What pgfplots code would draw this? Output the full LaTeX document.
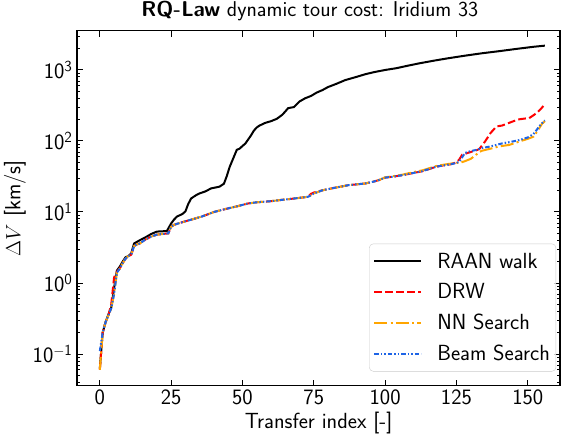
\documentclass[border=0pt]{standalone}
\usepackage{fontspec}
\usepackage{pgfplots}
\pgfplotsset{compat=1.18}
\definecolor{drwred}{RGB}{255,0,0}
\definecolor{nnorange}{RGB}{255,165,0}
\definecolor{beamblue}{RGB}{30,100,230}
\newcommand\figfont{\sffamily\fontsize{22}{26}\selectfont}
\newcommand\titlefont{\sffamily\fontsize{21.5}{25}\selectfont}
\begin{document}
\begin{tikzpicture}
\begin{axis}[
  name=ax,
  scale only axis, width=483bp, height=355bp,
  xmin=-8, xmax=161.3,
  ymode=log, ymin=0.0358, ymax=3573,
  axis line style={line width=1.1bp},
  tick align=inside,
  major tick length=6bp, minor tick length=3.5bp,
  every tick/.style={black, line width=1bp},
  minor tick style={line width=0.8bp},
  xtick={0,25,50,75,100,125,150},
  ytick={0.1,1,10,100,1000},
  yticklabels={$\mathsf{10^{-1}}$,$\mathsf{10^{0}}$,$\mathsf{10^{1}}$,$\mathsf{10^{2}}$,$\mathsf{10^{3}}$},
  minor ytick={0.04,0.05,0.06,0.07,0.08,0.09,0.2,0.3,0.4,0.5,0.6,0.7,0.8,0.9,2,3,4,5,6,7,8,9,20,30,40,50,60,70,80,90,200,300,400,500,600,700,800,900,2000,3000},
  tick label style={font=\figfont},
  /pgf/number format/assume math mode=true,
  xticklabel style={yshift=-1bp},
  yticklabel style={xshift=-1bp},
  title={\textbf{RQ-Law} dynamic tour cost: Iridium 33},
  title style={font=\titlefont, at={(0.482,1)}, anchor=base, inner sep=0pt, yshift=8.3bp},
  xlabel={Transfer index [-]},
  ylabel={$\Delta V$ [km/s]},
  label style={font=\figfont},
  legend style={at={(0.992,0.04)}, anchor=south east, draw=black!20,
    rounded corners=4bp, fill=white, fill opacity=0.8, text opacity=1,
    font=\figfont, row sep=10bp, column sep=13bp, inner xsep=4bp, inner ysep=7bp},
  legend cell align=left,
  legend image code/.code={\draw[#1] (0bp,0bp) -- (47bp,0bp);},
  every axis plot/.append style={line width=2bp},
]
% RAAN walk
\addplot[black, solid] coordinates {
(0,0.062) (1,0.2) (2,0.28) (3,0.36) (4,0.45) (5,0.85) (6,1.5) (7,1.7) (8,2.0)
(9,2.3) (10,2.4) (11,2.6) (12,3.6) (13,3.8) (14,4.0) (16,4.4) (18,4.9) (20,5.3)
(22,5.35) (23.5,5.4) (25,6.9) (26,7.8) (27,8.6) (29,9.4) (30,10.2) (31,13.0)
(32,15.5) (33,16.5) (34,17.5) (35,18.3) (37,19.5) (39,21.5) (41,22.3) (42,22.8)
(43.5,25) (44.5,32) (45.5,43) (47,60) (48,75) (49,78) (50,85) (51,92) (52,105)
(53,120) (54,140) (55,155) (56,165) (58,180) (60,190) (62,205) (63,219) (64,235)
(65,260) (66,290) (67,295) (68,300) (70,360) (72,400) (74,430) (76,480) (78,520)
(80,575) (83,640) (86,720) (90,800) (93,870) (96,930) (100,1000) (104,1060)
(108,1150) (112,1240) (117,1350) (122,1460) (128,1590) (134,1720) (140,1840)
(146,1980) (152,2120) (156,2200)
};
\addlegendentry{RAAN walk\hspace{7bp}}
% DRW
\addplot[drwred, dash pattern=on 7.7bp off 3.3bp] coordinates {
(0,0.06) (1,0.2) (2,0.28) (3,0.35) (4,0.5) (5,1.2) (6,1.45) (7,1.6) (8,1.9)
(9,2.2) (10,2.4) (11,2.5) (12,3.3) (13,3.5) (14,3.6) (16,4.1) (18,4.5) (20,4.8)
(22,4.9) (24,5.0) (25,6.2) (26,6.6) (28,7.0) (30,7.4) (33,8.0) (36,8.7) (40,10.0)
(44,11.0) (48,12.0) (52,13.2) (55,13.7) (60,14.2) (63,14.7) (67,15.3) (70,15.8)
(73,16.4) (74,18.0) (75,18.8) (78,20.2) (82,21.8) (87,23.8) (90,24.5) (93,25.2)
(96,26.8) (98,28.3) (100,30.5) (103,31.5) (106,33) (110,35.5) (113,37.5) (116,41)
(118,43.5) (120,45) (123,47) (125,50) (126,55) (127,64) (130,70) (132,74)
(133,77) (135,98) (137,130) (139,160) (141,165) (143,177) (145,190) (147,202)
(149,207) (150.5,210) (152,230) (153,246) (154.5,280) (156,330)
};
\addlegendentry{DRW\hspace{7bp}}
% NN Search
\addplot[nnorange, dash pattern=on 13bp off 3.3bp on 2bp off 3.3bp] coordinates {
(0,0.06) (1,0.2) (2,0.28) (3,0.35) (4,0.44) (5,0.7) (6,1.4) (7,1.6) (8,1.9)
(9,2.2) (10,2.4) (11,2.5) (12,3.3) (13,3.5) (14,3.6) (16,4.1) (18,4.5) (20,4.8)
(22,4.9) (24,5.0) (25,6.2) (26,6.6) (28,7.0) (30,7.4) (33,8.0) (36,8.7) (40,10.0)
(44,11.0) (48,12.0) (52,13.2) (55,13.7) (60,14.2) (63,14.7) (67,15.3) (70,15.8)
(73,16.4) (74,17.2) (75,18.2) (78,20.2) (82,21.8) (87,23.8) (90,24.5) (93,25.2)
(96,26.8) (98,28.3) (100,30.8) (103,32) (106,33.5) (110,36.5) (113,38.5) (116,42)
(118,44.5) (120,46) (123,48) (125,49) (126,49) (128,52) (130,56) (131.5,62)
(133,70) (134,73) (137,78) (140,84) (143.5,88) (147,98) (150.5,109) (152,115)
(153.5,140) (155,175) (156,190)
};
\addlegendentry{NN Search\hspace{7bp}}
% Beam Search
\addplot[beamblue, dash pattern=on 4.5bp off 2bp on 1.5bp off 2bp on 1.5bp off 2bp] coordinates {
(0,0.11) (1,0.2) (2,0.28) (3,0.35) (4,0.44) (5,0.7) (6,1.4) (7,1.6) (8,1.9)
(9,2.2) (10,2.4) (11,2.5) (12,3.3) (13,3.5) (14,3.6) (16,4.1) (18,4.5) (20,4.8)
(22,4.9) (24,5.0) (25,6.2) (26,6.6) (28,7.0) (30,7.4) (33,8.0) (36,8.7) (40,10.0)
(44,11.0) (48,12.0) (52,13.2) (55,13.7) (60,14.2) (63,14.7) (67,15.3) (70,15.8)
(73,16.4) (74,17.2) (75,18.2) (78,20.2) (82,21.8) (87,23.8) (90,24.5) (93,25.2)
(96,26.8) (98,28.3) (100,30.5) (103,31.5) (106,33) (110,35.5) (113,37.5) (116,41)
(118,43.5) (120,45) (123,47) (125,49) (126,51) (128,68) (130,72) (132,75)
(134,79.6) (137,84) (141,92.5) (144,97) (147,103) (150,112) (152,125)
(153.5,150) (154.5,170) (156,195)
};
\addlegendentry{Beam Search\hspace{7bp}}
\end{axis}
\pgfresetboundingbox
\path[use as bounding box] ([xshift=-77bp,yshift=-55.3bp]ax.south west)
  rectangle ([xshift=1bp,yshift=30.7bp]ax.north east);
\end{tikzpicture}
\end{document}
